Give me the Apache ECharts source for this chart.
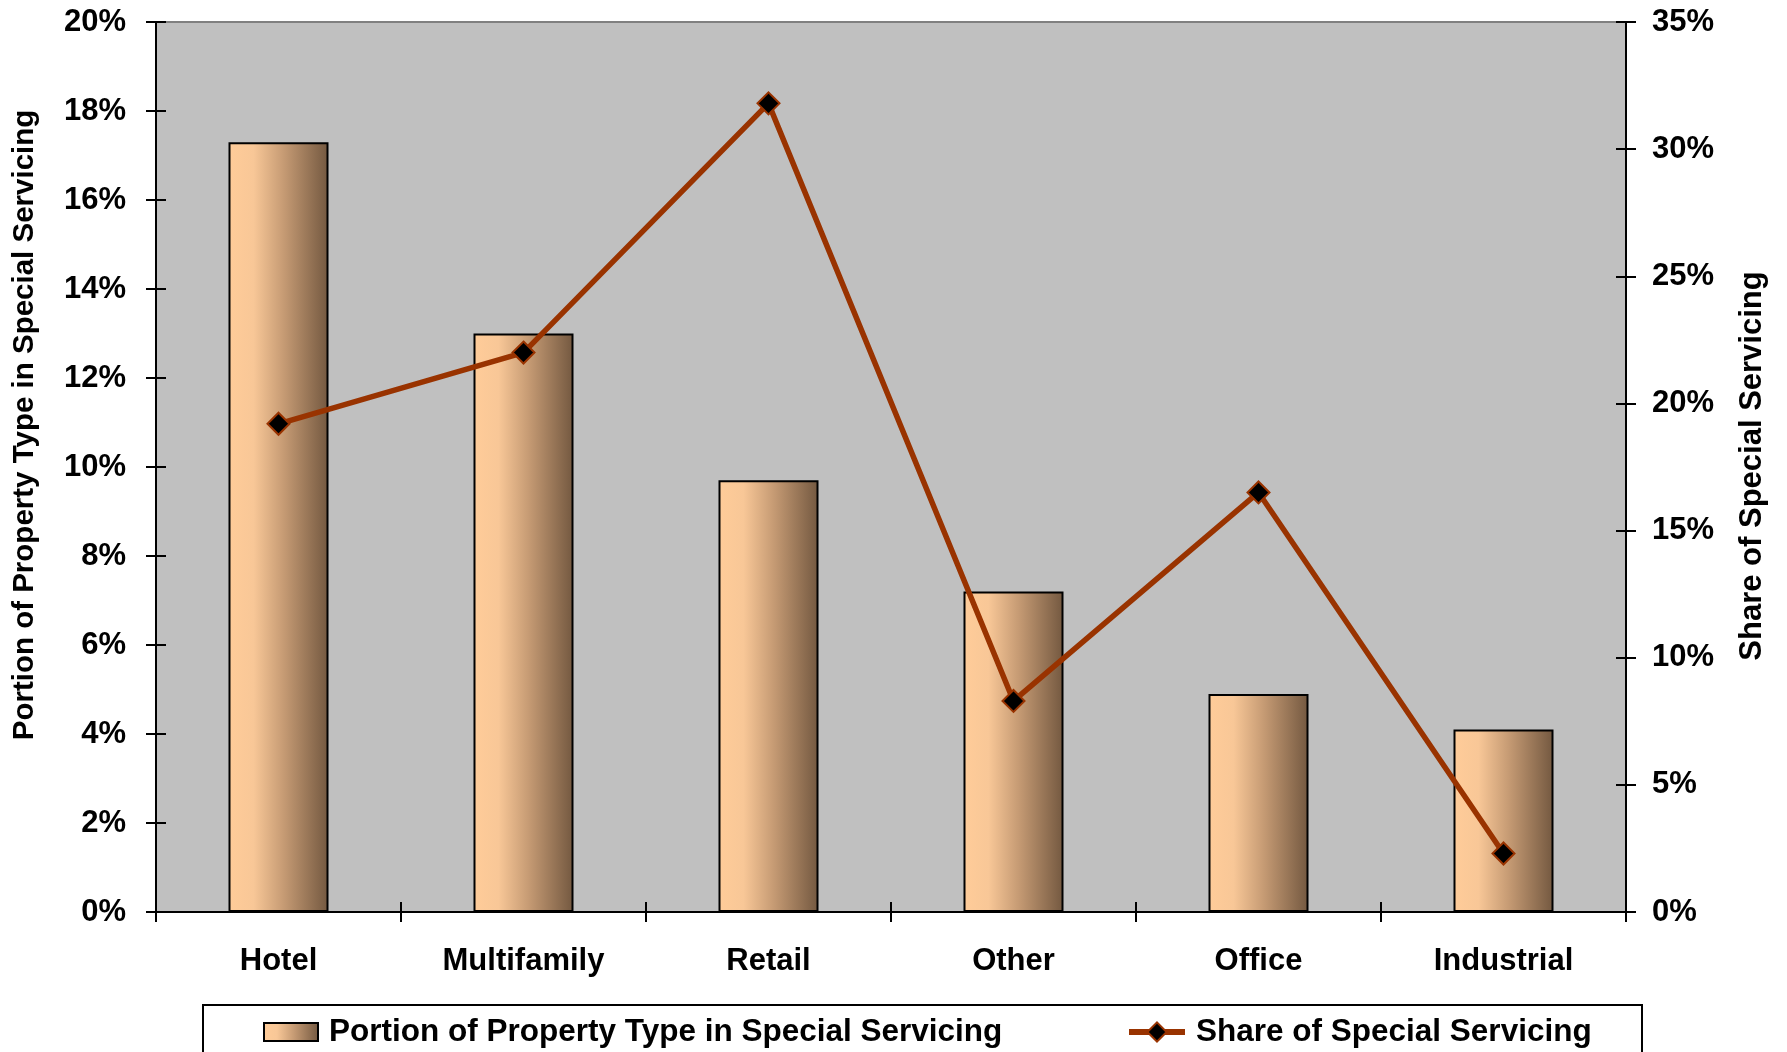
<!DOCTYPE html>
<html>
<head>
<meta charset="utf-8">
<script src="https://cdn.jsdelivr.net/npm/echarts@6/dist/echarts.min.js"></script>
<style>html,body{margin:0;padding:0;background:#fff;}#c{width:1787px;height:1052px;}</style>
</head>
<body>
<div id="c"></div>
<script>
var categories = ['Hotel', 'Multifamily', 'Retail', 'Other', 'Office', 'Industrial'];
var portionValues = [17.3, 13.0, 9.7, 7.2, 4.9, 4.1];
var shareValues = [19.2, 22.0, 31.8, 8.3, 16.5, 2.3];
var leftTicks = {min: 0, max: 20, interval: 2};
var rightTicks = {min: 0, max: 35, interval: 5};
var seriesNames = ['Portion of Property Type in Special Servicing', 'Share of Special Servicing'];

var FONT = '"Liberation Sans", Arial, sans-serif';
var chart = echarts.init(document.getElementById('c'));
var barGrad = new echarts.graphic.LinearGradient(0, 0, 1, 0, [
  {offset: 0, color: '#FFCC99'},
  {offset: 0.25, color: '#F8C797'},
  {offset: 0.55, color: '#C69B74'},
  {offset: 1, color: '#735840'}
]);
var lab = {fontFamily: FONT, fontWeight: 'bold', fontSize: 31, color: '#000'};
function yAx(pos, t, inside, show) {
  return {
    type: 'value', position: pos, min: t.min, max: t.max, interval: t.interval,
    axisLine: {show: true, lineStyle: {color: '#000', width: 2}},
    axisTick: {show: true, inside: inside, length: 10, lineStyle: {color: '#000', width: 2}},
    axisLabel: show ? Object.assign({formatter: '{value}%', margin: pos === 'left' ? 30 : 26}, lab) : {show: false},
    splitLine: {show: false}
  };
}
chart.setOption({
  animation: false,
  grid: {left: 156, right: 161, top: 22, bottom: 140, show: true, backgroundColor: '#C0C0C0', borderColor: '#808080', borderWidth: 2},
  xAxis: [
    {type: 'category', data: categories, position: 'bottom',
     axisLine: {show: true, lineStyle: {color: '#000', width: 2}},
     axisTick: {show: true, length: 10, lineStyle: {color: '#000', width: 2}},
     axisLabel: Object.assign({margin: 34}, lab)},
    {type: 'category', data: categories, position: 'bottom',
     axisLine: {show: false},
     axisTick: {show: true, inside: true, length: 10, lineStyle: {color: '#000', width: 2}},
     axisLabel: {show: false}}
  ],
  yAxis: [yAx('left', leftTicks, false, true), yAx('right', rightTicks, false, true),
          yAx('left', leftTicks, true, false), yAx('right', rightTicks, true, false)],
  legend: [
    {data: [seriesNames[0]], left: 263, top: 1016, padding: 0, itemWidth: 54, itemHeight: 18, icon: 'rect',
     textStyle: {fontFamily: FONT, fontWeight: 'bold', fontSize: 31.5, color: '#000', padding: [0, 0, 0, 6]}},
    {data: [seriesNames[1]], left: 1126, top: 1016, padding: 0, itemWidth: 56, itemHeight: 24,
     lineStyle: {width: 6, color: '#993300'},
     textStyle: {fontFamily: FONT, fontWeight: 'bold', fontSize: 31.5, color: '#000', padding: [0, 0, 0, 6]}}
  ],
  graphic: [
    {type: 'rect', shape: {x: 203, y: 1005, width: 1439, height: 80}, style: {fill: 'none', stroke: '#000', lineWidth: 2}, z: -1},
    {type: 'text', x: 25, y: 425, rotation: Math.PI / 2,
     style: {text: 'Portion of Property Type in Special Servicing', fontFamily: FONT, fontWeight: 'bold', fontSize: 29.5, fill: '#000', align: 'center', verticalAlign: 'middle'}},
    {type: 'text', x: 1752, y: 466, rotation: Math.PI / 2,
     style: {text: 'Share of Special Servicing', fontFamily: FONT, fontWeight: 'bold', fontSize: 31, fill: '#000', align: 'center', verticalAlign: 'middle'}}
  ],
  series: [
    {name: seriesNames[0], type: 'bar', data: portionValues, xAxisIndex: 0, yAxisIndex: 0, barWidth: 100,
     itemStyle: {color: barGrad, borderColor: '#000', borderWidth: 2}},
    {name: seriesNames[1], type: 'line', data: shareValues, xAxisIndex: 0, yAxisIndex: 1,
     symbol: 'diamond', symbolSize: 22, showSymbol: true,
     lineStyle: {color: '#993300', width: 5.5},
     itemStyle: {color: '#000', borderColor: '#993300', borderWidth: 2}}
  ]
});
</script>
</body>
</html>
